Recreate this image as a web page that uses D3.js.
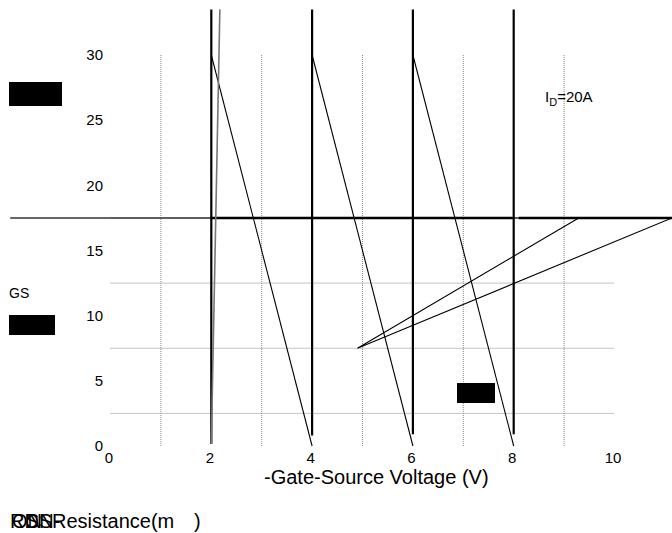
<!DOCTYPE html>
<html><head><meta charset="utf-8">
<script src="https://cdn.jsdelivr.net/npm/d3@7"></script>
<style>body{margin:0;background:#fff;} text{font-family:"Liberation Sans",Arial,sans-serif;}</style>
</head><body>
<svg id="c" width="672" height="533"></svg>
<script>
// ---- data ----
const xTicks = [0, 2, 4, 6, 8, 10];
const yTicks = [0, 5, 10, 15, 20, 25, 30];
const xGrid = [1, 3, 5, 7, 9];
const yGrid = [2.5, 7.5, 12.5, 17.5];
const stepX = [2, 4, 6, 8];
const stepBottom = [0.15, 0.8, 0.9, 0.9];
const stepTop = 33.5;
const diagStart = [[2, 30], [4, 30], [6, 30]];
const diagEnd = [[4, 0], [6, 0], [8, 0]];
const grayLine = [[2.17, 33.5], [2.0, 0.15]];
const fanLine = [[9.29, 17.5], [4.9, 7.5], [11.14, 17.5]];
const flatThin = [[-1.99, 17.5], [11.14, 17.5]];
const flatThick = [[[2, 17.5], [7.98, 17.5]], [[8.1, 17.5], [11.14, 17.5]]];
const idLabel = {main: "I", sub: "D", rest: "=20A"};

// ---- chart ----
const svg = d3.select("#c");
const x = d3.scaleLinear().domain([0, 10]).range([110.5, 614.5]);
const y = d3.scaleLinear().domain([0, 30]).range([446, 55]);
const line = d3.line().x(d => x(d[0])).y(d => y(d[1]));

// grid
svg.append("g").selectAll("line").data(xGrid).join("line")
  .attr("x1", d => x(d)).attr("x2", d => x(d))
  .attr("y1", y(0)).attr("y2", y(30))
  .attr("stroke", "#888").attr("stroke-width", 1).attr("stroke-dasharray", "1,1");
svg.append("g").selectAll("line").data(yGrid).join("line")
  .attr("x1", x(0)).attr("x2", x(10))
  .attr("y1", d => y(d)).attr("y2", d => y(d))
  .attr("stroke", "#888").attr("stroke-width", 1).attr("stroke-dasharray", "1,1");

// axes (labels only)
const xa = svg.append("g").attr("transform", `translate(-2,${y(0)})`)
  .call(d3.axisBottom(x).tickValues(xTicks).tickSize(0).tickPadding(6).tickFormat(d3.format("d")));
xa.select(".domain").remove();
xa.selectAll("text").attr("font-size", 15).attr("fill", "#000").style("font-family", "Liberation Sans, Arial, sans-serif");
const ya = svg.append("g").attr("transform", `translate(${x(0) - 7.5},0)`)
  .call(d3.axisLeft(y).tickValues(yTicks).tickSize(0).tickPadding(0).tickFormat(d3.format("d")));
ya.select(".domain").remove();
ya.selectAll("text").attr("font-size", 15).attr("fill", "#000").style("font-family", "Liberation Sans, Arial, sans-serif");

// horizontal flat line
svg.append("path").datum(flatThin).attr("d", line).attr("fill", "none")
  .attr("stroke", "#333").attr("stroke-width", 1.5);
svg.append("g").selectAll("path").data(flatThick).join("path").attr("d", line)
  .attr("fill", "none").attr("stroke", "#000").attr("stroke-width", 2.5);

// vertical steps
svg.append("g").selectAll("line").data(stepX).join("line")
  .attr("x1", d => x(d)).attr("x2", d => x(d))
  .attr("y1", (d, i) => y(stepBottom[i])).attr("y2", y(stepTop))
  .attr("stroke", "#000").attr("stroke-width", 2.2);

// diagonals
svg.append("g").selectAll("path").data(diagStart.map((s, i) => [s, diagEnd[i]])).join("path")
  .attr("d", line).attr("fill", "none").attr("stroke", "#000").attr("stroke-width", 1.1);

// gray near-vertical
svg.append("path").datum(grayLine).attr("d", line).attr("fill", "none")
  .attr("stroke", "#777").attr("stroke-width", 1.6);

// fan
svg.append("path").datum(fanLine).attr("d", line).attr("fill", "none")
  .attr("stroke", "#000").attr("stroke-width", 1.1);

// black boxes
const boxes = svg.append("g");
boxes.append("rect").attr("x", 9).attr("y", 82).attr("width", 53).attr("height", 24).attr("fill", "#000");
boxes.append("rect").attr("x", 9).attr("y", 315).attr("width", 46).attr("height", 20).attr("fill", "#000");
boxes.append("rect").attr("x", 457).attr("y", 383).attr("width", 38).attr("height", 20).attr("fill", "#000");

// texts
const idT = svg.append("text").attr("x", 545).attr("y", 102).attr("font-size", 15);
idT.append("tspan").text(idLabel.main);
idT.append("tspan").attr("font-size", 11).attr("dy", 4).text(idLabel.sub);
idT.append("tspan").attr("dy", -4).text(idLabel.rest);

svg.append("text").attr("x", 9).attr("y", 298).attr("font-size", 14).text("GS");

svg.append("text").attr("x", 264).attr("y", 484).attr("font-size", 20).text("-Gate-Source Voltage (V)");

const bt = svg.append("g").attr("font-size", 20);
bt.append("text").attr("x", 10).attr("y", 528).text("RDS");
bt.append("text").attr("x", 12).attr("y", 528).text("ON");
bt.append("text").attr("x", 26).attr("y", 528).text("SN-");
bt.append("text").attr("x", 52).attr("y", 528).text("Resistance(m");
bt.append("text").attr("x", 194).attr("y", 528).text(")");
</script>
</body></html>
